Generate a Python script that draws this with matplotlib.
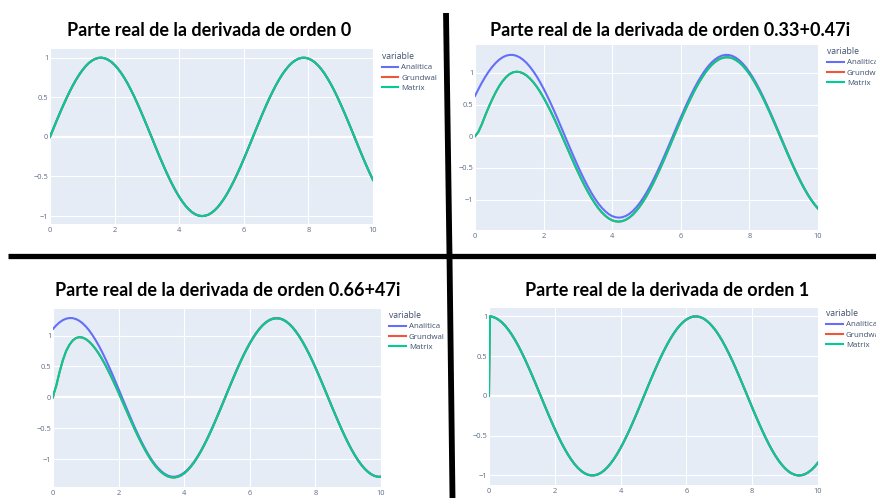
import matplotlib
matplotlib.use('Agg')
import matplotlib.pyplot as plt
from matplotlib.lines import Line2D

# Valores (eje x comun para las cuatro graficas)
x_vals = [0, 0.03, 0.1, 0.2, 0.3, 0.4, 0.5, 0.6, 0.7, 0.8, 0.9,
          1.0, 1.1, 1.2, 1.3, 1.4, 1.5, 1.6, 1.7, 1.8, 1.9,
          2.0, 2.1, 2.2, 2.3, 2.4, 2.5, 2.6, 2.7, 2.8, 2.9,
          3.0, 3.1, 3.2, 3.3, 3.4, 3.5, 3.6, 3.7, 3.8, 3.9,
          4.0, 4.1, 4.2, 4.3, 4.4, 4.5, 4.6, 4.7, 4.8, 4.9,
          5.0, 5.1, 5.2, 5.3, 5.4, 5.5, 5.6, 5.7, 5.8, 5.9,
          6.0, 6.1, 6.2, 6.3, 6.4, 6.5, 6.6, 6.7, 6.8, 6.9,
          7.0, 7.1, 7.2, 7.3, 7.4, 7.5, 7.6, 7.7, 7.8, 7.9,
          8.0, 8.1, 8.2, 8.3, 8.4, 8.5, 8.6, 8.7, 8.8, 8.9,
          9.0, 9.1, 9.2, 9.3, 9.4, 9.5, 9.6, 9.7, 9.8, 9.9, 10.0]

# orden 0: las tres series coinciden
orden0 = [0.0, 0.030, 0.100,
          0.199, 0.296, 0.389, 0.479, 0.565, 0.644, 0.717, 0.783,
          0.841, 0.891, 0.932, 0.964, 0.985, 0.998, 1.000, 0.992, 0.974, 0.946,
          0.909, 0.863, 0.809, 0.746, 0.676, 0.598, 0.516, 0.427, 0.335, 0.239,
          0.141, 0.042, -0.058, -0.158, -0.256, -0.351, -0.443, -0.530, -0.612, -0.688,
          -0.757, -0.818, -0.872, -0.916, -0.952, -0.978, -0.994, -1.000, -0.996, -0.983,
          -0.959, -0.926, -0.884, -0.832, -0.773, -0.706, -0.631, -0.551, -0.465, -0.374,
          -0.279, -0.182, -0.083, 0.017, 0.117, 0.215, 0.312, 0.405, 0.494, 0.578,
          0.657, 0.729, 0.794, 0.850, 0.899, 0.938, 0.968, 0.988, 0.999, 0.999,
          0.989, 0.970, 0.941, 0.902, 0.855, 0.799, 0.734, 0.663, 0.585, 0.501,
          0.412, 0.319, 0.223, 0.125, 0.025, -0.075, -0.174, -0.272, -0.367, -0.458, -0.544]

# orden 0.33+0.47i
analitica_033 = [0.636, 0.669, 0.744,
                 0.845, 0.938, 1.021, 1.094, 1.155, 1.206, 1.244, 1.270,
                 1.283, 1.284, 1.271, 1.246, 1.208, 1.159, 1.097, 1.025, 0.943, 0.851,
                 0.750, 0.642, 0.528, 0.409, 0.285, 0.158, 0.030, -0.098, -0.225, -0.351,
                 -0.472, -0.589, -0.700, -0.804, -0.900, -0.987, -1.065, -1.131, -1.186, -1.230,
                 -1.261, -1.279, -1.285, -1.278, -1.258, -1.225, -1.181, -1.124, -1.056, -0.978,
                 -0.890, -0.793, -0.688, -0.576, -0.459, -0.337, -0.211, -0.084, 0.045, 0.173,
                 0.299, 0.422, 0.541, 0.655, 0.762, 0.861, 0.952, 1.034, 1.105, 1.165,
                 1.213, 1.249, 1.273, 1.284, 1.282, 1.268, 1.240, 1.201, 1.149, 1.086,
                 1.012, 0.928, 0.834, 0.733, 0.624, 0.508, 0.388, 0.264, 0.137, 0.009,
                 -0.120, -0.247, -0.371, -0.492, -0.608, -0.718, -0.821, -0.916, -1.001, -1.076, -1.141]
matrix_033 = [0.0, 0.02, 0.07,
              0.19, 0.33, 0.46, 0.58, 0.690, 0.786, 0.866, 0.930,
              0.978, 1.007, 1.018, 1.013, 0.993, 0.960, 0.912, 0.853, 0.782, 0.700,
              0.608, 0.508, 0.401, 0.288, 0.170, 0.048, -0.075, -0.199, -0.322, -0.444,
              -0.562, -0.676, -0.784, -0.885, -0.978, -1.063, -1.139, -1.203, -1.256, -1.298,
              -1.327, -1.343, -1.348, -1.339, -1.318, -1.283, -1.238, -1.180, -1.111, -1.032,
              -0.943, -0.845, -0.739, -0.626, -0.508, -0.385, -0.258, -0.131, -0.001, 0.127,
              0.254, 0.378, 0.497, 0.611, 0.719, 0.819, 0.910, 0.993, 1.064, 1.125,
              1.173, 1.210, 1.234, 1.246, 1.245, 1.232, 1.205, 1.167, 1.117, 1.055,
              0.982, 0.900, 0.807, 0.707, 0.600, 0.485, 0.367, 0.244, 0.119, -0.008,
              -0.135, -0.261, -0.383, -0.503, -0.617, -0.726, -0.827, -0.921, -1.004, -1.078, -1.141]
grundwal_033 = matrix_033

# orden 0.66+47i
analitica_066 = [1.106, 1.125, 1.166,
                 1.214, 1.250, 1.273, 1.284, 1.282, 1.267, 1.240, 1.200,
                 1.148, 1.085, 1.010, 0.926, 0.833, 0.731, 0.622, 0.506, 0.386, 0.261,
                 0.135, 0.006, -0.122, -0.249, -0.374, -0.495, -0.611, -0.720, -0.823, -0.917,
                 -1.003, -1.078, -1.142, -1.195, -1.236, -1.265, -1.281, -1.285, -1.275, -1.253,
                 -1.218, -1.171, -1.112, -1.043, -0.962, -0.873, -0.774, -0.668, -0.555, -0.436,
                 -0.313, -0.188, -0.060, 0.069, 0.197, 0.322, 0.445, 0.563, 0.676, 0.781,
                 0.879, 0.968, 1.048, 1.117, 1.175, 1.221, 1.255, 1.276, 1.285, 1.281,
                 1.264, 1.234, 1.192, 1.138, 1.073, 0.997, 0.911, 0.816, 0.713, 0.603,
                 0.486, 0.365, 0.240, 0.113, -0.015, -0.144, -0.270, -0.394, -0.515, -0.629,
                 -0.738, -0.840, -0.932, -1.016, -1.090, -1.152, -1.203, -1.242, -1.269, -1.283, -1.284]
matrix_066 = [0.0, 0.07, 0.19,
              0.41, 0.60, 0.75, 0.85, 0.92, 0.96, 0.975, 0.968,
              0.943, 0.903, 0.848, 0.781, 0.704, 0.616, 0.520, 0.416, 0.307, 0.192,
              0.075, -0.046, -0.167, -0.288, -0.408, -0.525, -0.637, -0.743, -0.844, -0.936,
              -1.020, -1.094, -1.157, -1.209, -1.249, -1.278, -1.293, -1.297, -1.286, -1.264,
              -1.229, -1.181, -1.122, -1.053, -0.972, -0.882, -0.783, -0.677, -0.564, -0.445,
              -0.321, -0.196, -0.068, 0.061, 0.189, 0.314, 0.438, 0.556, 0.669, 0.774,
              0.872, 0.961, 1.041, 1.111, 1.169, 1.215, 1.249, 1.270, 1.279, 1.275,
              1.259, 1.229, 1.187, 1.133, 1.068, 0.992, 0.906, 0.811, 0.709, 0.599,
              0.482, 0.361, 0.236, 0.109, -0.019, -0.148, -0.273, -0.397, -0.518, -0.632,
              -0.741, -0.843, -0.935, -1.019, -1.092, -1.154, -1.205, -1.244, -1.271, -1.285, -1.286]
grundwal_066 = matrix_066

# orden 1
analitica_1 = [1.0, 1.0, 0.995,
               0.980, 0.955, 0.921, 0.878, 0.825, 0.765, 0.697, 0.622,
               0.540, 0.454, 0.362, 0.268, 0.170, 0.071, -0.029, -0.129, -0.227, -0.323,
               -0.416, -0.505, -0.589, -0.666, -0.737, -0.801, -0.857, -0.904, -0.942, -0.971,
               -0.990, -0.999, -0.998, -0.988, -0.967, -0.937, -0.897, -0.848, -0.791, -0.726,
               -0.654, -0.575, -0.490, -0.401, -0.307, -0.211, -0.112, -0.012, 0.088, 0.187,
               0.284, 0.378, 0.469, 0.554, 0.635, 0.709, 0.776, 0.835, 0.886, 0.928,
               0.960, 0.983, 0.997, 1.000, 0.993, 0.977, 0.950, 0.914, 0.869, 0.816,
               0.754, 0.685, 0.608, 0.526, 0.439, 0.347, 0.251, 0.153, 0.054, -0.046,
               -0.146, -0.244, -0.339, -0.431, -0.519, -0.602, -0.679, -0.749, -0.811, -0.865,
               -0.911, -0.948, -0.975, -0.992, -1.000, -0.997, -0.985, -0.962, -0.930, -0.889, -0.839]
matrix_1 = [0.0, 1.0, 0.995,
            0.980, 0.955, 0.921, 0.878, 0.825, 0.765, 0.697, 0.622,
            0.540, 0.454, 0.362, 0.268, 0.170, 0.071, -0.029, -0.129, -0.227, -0.323,
            -0.416, -0.505, -0.589, -0.666, -0.737, -0.801, -0.857, -0.904, -0.942, -0.971,
            -0.990, -0.999, -0.998, -0.988, -0.967, -0.937, -0.897, -0.848, -0.791, -0.726,
            -0.654, -0.575, -0.490, -0.401, -0.307, -0.211, -0.112, -0.012, 0.088, 0.187,
            0.284, 0.378, 0.469, 0.554, 0.635, 0.709, 0.776, 0.835, 0.886, 0.928,
            0.960, 0.983, 0.997, 1.000, 0.993, 0.977, 0.950, 0.914, 0.869, 0.816,
            0.754, 0.685, 0.608, 0.526, 0.439, 0.347, 0.251, 0.153, 0.054, -0.046,
            -0.146, -0.244, -0.339, -0.431, -0.519, -0.602, -0.679, -0.749, -0.811, -0.865,
            -0.911, -0.948, -0.975, -0.992, -1.000, -0.997, -0.985, -0.962, -0.930, -0.889, -0.839]
grundwal_1 = matrix_1

series_names = ['Analitica', 'Grundwal', 'Matrix']
colors = ['#636EFA', '#EF553B', '#00CC96']

W, H = 876, 498
fig = plt.figure(figsize=(W / 100, H / 100), dpi=100)
fig.patch.set_facecolor('white')


def fx(px):
    return px / W


def fy(py):
    return 1 - py / H


panels = [
    dict(title='Parte real de la derivada de orden 0', box=(50, 49, 373, 224),
         ylim=(-1.1, 1.11), data=[orden0, orden0, orden0],
         title_xy=(209, 31), legend_xy=(381.5, 52)),
    dict(title='Parte real de la derivada de orden 0.33+0.47i', box=(475, 45, 818, 230),
         ylim=(-1.48, 1.44), data=[analitica_033, grundwal_033, matrix_033],
         title_xy=(670, 31), legend_xy=(827, 47)),
    dict(title='Parte real de la derivada de orden 0.66+47i', box=(53, 309, 381, 487),
         ylim=(-1.45, 1.43), data=[analitica_066, grundwal_066, matrix_066],
         title_xy=(228, 290), legend_xy=(389, 311)),
    dict(title='Parte real de la derivada de orden 1', box=(489, 308, 818, 485),
         ylim=(-1.12, 1.105), data=[analitica_1, grundwal_1, matrix_1],
         title_xy=(667, 290), legend_xy=(826, 309)),
]

tick_color = '#5c6c88'
legend_color = '#3e4f6d'

for p in panels:
    l, t, r, b = p['box']
    ax = fig.add_axes([fx(l), fy(b), fx(r) - fx(l), fy(t) - fy(b)])
    ax.set_facecolor('#E5ECF6')
    for name, col, vals in zip(series_names, colors, p['data']):
        ax.plot(x_vals, vals, color=col, lw=1.5, label=name, zorder=3,
                solid_joinstyle='round')
    ax.set_xlim(0, 10)
    ax.set_ylim(*p['ylim'])
    ax.set_xticks([0, 2, 4, 6, 8, 10])
    ax.set_yticks([-1, -0.5, 0, 0.5, 1])
    ax.set_yticklabels(['\u22121', '\u22120.5', '0', '0.5', '1'])
    ax.grid(True, color='white', lw=0.8, zorder=0)
    ax.axhline(0, color='white', lw=1.6, zorder=1)
    for s in ax.spines.values():
        s.set_visible(False)
    ax.tick_params(length=0, labelsize=5.4, colors=tick_color)
    ax.tick_params(axis='x', pad=2.2)
    ax.tick_params(axis='y', pad=1.2)
    for lab in ax.get_xticklabels() + ax.get_yticklabels():
        lab.set_fontfamily('Open Sans')

    fig.text(fx(p['title_xy'][0]), fy(p['title_xy'][1]), p['title'],
             ha='center', va='center', fontsize=13, fontweight='bold',
             family='Lato', color='black')

    lx, ly = p['legend_xy']
    leg = ax.legend(title='variable', loc='upper left',
                    bbox_to_anchor=(fx(lx), fy(ly)), bbox_transform=fig.transFigure,
                    frameon=False, fontsize=5.7, title_fontsize=6.2,
                    handlelength=2.1, handletextpad=0.4, labelspacing=0.36,
                    borderaxespad=0, borderpad=0, alignment='left')
    for txt in leg.get_texts():
        txt.set_color(legend_color)
        txt.set_fontfamily('Open Sans')
    leg.get_title().set_color(legend_color)
    leg.get_title().set_fontfamily('Open Sans')

# lineas negras que separan los cuatro recortes
sep_kw = dict(color='black', transform=fig.transFigure, solid_capstyle='butt')
fig.add_artist(Line2D([fx(446), fx(449.5)], [fy(13), fy(256)], lw=4.2, **sep_kw))
fig.add_artist(Line2D([fx(449.5), fx(452.5)], [fy(256), fy(498)], lw=4.2, **sep_kw))
fig.add_artist(Line2D([fx(8), fx(876)], [fy(256.5), fy(256.5)], lw=3.8, **sep_kw))

fig.savefig('out.png', dpi=100)
